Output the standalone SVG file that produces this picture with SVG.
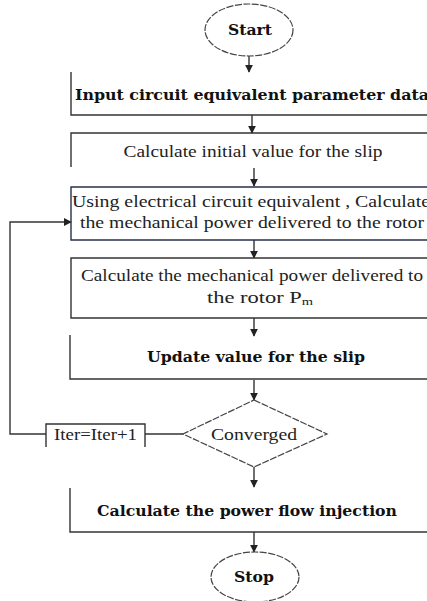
<svg xmlns="http://www.w3.org/2000/svg" width="427" height="601" viewBox="0 0 427 601">
<defs>
<marker id="ah" viewBox="0 0 10 10" refX="9" refY="5" markerWidth="8" markerHeight="8" markerUnits="userSpaceOnUse" orient="auto">
<path d="M0,0 L10,5 L0,10 z" fill="#222"/>
</marker>
<style>
.ln{stroke:#333;stroke-width:1.4;fill:none}
.dash{stroke:#444;stroke-width:1.2;fill:#fff;stroke-dasharray:7 1.5}
.t{font-family:"Liberation Serif","DejaVu Serif",serif;font-size:17px;fill:#222}
.b{font-family:"DejaVu Serif","Liberation Serif",serif;font-weight:bold;font-size:14px;fill:#111}
</style>
</defs>
<rect width="427" height="601" fill="#fff"/>
<g id="connectors">
<line class="ln" x1="249" y1="56" x2="249" y2="72" marker-end="url(#ah)"/>
<line class="ln" x1="252" y1="115" x2="252" y2="133" marker-end="url(#ah)"/>
<line class="ln" x1="254" y1="168" x2="254" y2="186" marker-end="url(#ah)"/>
<line class="ln" x1="254" y1="240" x2="254" y2="258" marker-end="url(#ah)"/>
<line class="ln" x1="254" y1="318" x2="254" y2="336" marker-end="url(#ah)"/>
<line class="ln" x1="254" y1="380" x2="254" y2="400" marker-end="url(#ah)"/>
<line class="ln" x1="254" y1="467" x2="254" y2="487" marker-end="url(#ah)"/>
<line class="ln" x1="254" y1="532" x2="254" y2="552" marker-end="url(#ah)"/>
<line class="ln" x1="183" y1="434" x2="145" y2="434"/>
<polyline class="ln" points="46,434 10,434 10,222 71,222" marker-end="url(#ah)"/>
</g>
<g id="start">
<ellipse class="dash" cx="249" cy="30" rx="44" ry="26"/>
<text class="b" x="250" y="35" text-anchor="middle" textLength="44" lengthAdjust="spacingAndGlyphs">Start</text>
</g>
<g id="input">
<polyline class="ln" points="71,72 71,115 427,115"/>
<text class="b" x="75" y="100" textLength="354" lengthAdjust="spacingAndGlyphs">Input circuit equivalent parameter data</text>
</g>
<g id="initial">
<polyline class="ln" points="71,167 71,133 427,133"/>
<text class="t" x="253" y="157" text-anchor="middle" textLength="259" lengthAdjust="spacingAndGlyphs">Calculate initial value for the slip</text>
</g>
<g id="electrical">
<polyline class="ln" style="stroke:#2a2f4a" points="427,187 71,187 71,240 427,240"/>
<text class="t" x="72" y="207" textLength="358" lengthAdjust="spacingAndGlyphs">Using electrical circuit equivalent , Calculate</text>
<text class="t" x="80" y="228" textLength="344" lengthAdjust="spacingAndGlyphs">the mechanical power delivered to the rotor</text>
</g>
<g id="mechanical">
<polyline class="ln" points="427,258 71,258 71,318 427,318"/>
<text class="t" x="81" y="281" textLength="342" lengthAdjust="spacingAndGlyphs">Calculate the mechanical power delivered to</text>
<text class="t" x="207" y="303" textLength="106" lengthAdjust="spacingAndGlyphs">the rotor P<tspan font-size="11" dy="2">m</tspan></text>
</g>
<g id="update">
<polyline class="ln" points="70,335 70,379 427,379"/>
<text class="b" x="256" y="362" text-anchor="middle" textLength="218" lengthAdjust="spacingAndGlyphs">Update value for the slip</text>
</g>
<g id="converged">
<polygon class="dash" points="254,400 327,434 254,467 183,434"/>
<text class="t" x="254" y="440" text-anchor="middle" textLength="86" lengthAdjust="spacingAndGlyphs">Converged</text>
</g>
<g id="iter">
<polyline class="ln" points="46,447 46,424 145,424 145,447"/>
<text class="t" x="54" y="440" textLength="83" lengthAdjust="spacingAndGlyphs">Iter=Iter+1</text>
</g>
<g id="powerflow">
<polyline class="ln" points="70,488 70,532 427,532"/>
<text class="b" x="247" y="516" text-anchor="middle" textLength="300" lengthAdjust="spacingAndGlyphs">Calculate the power flow injection</text>
</g>
<g id="stop">
<ellipse class="dash" cx="255" cy="577" rx="44" ry="25"/>
<text class="b" x="254" y="582" text-anchor="middle" textLength="40" lengthAdjust="spacingAndGlyphs">Stop</text>
</g>
</svg>
